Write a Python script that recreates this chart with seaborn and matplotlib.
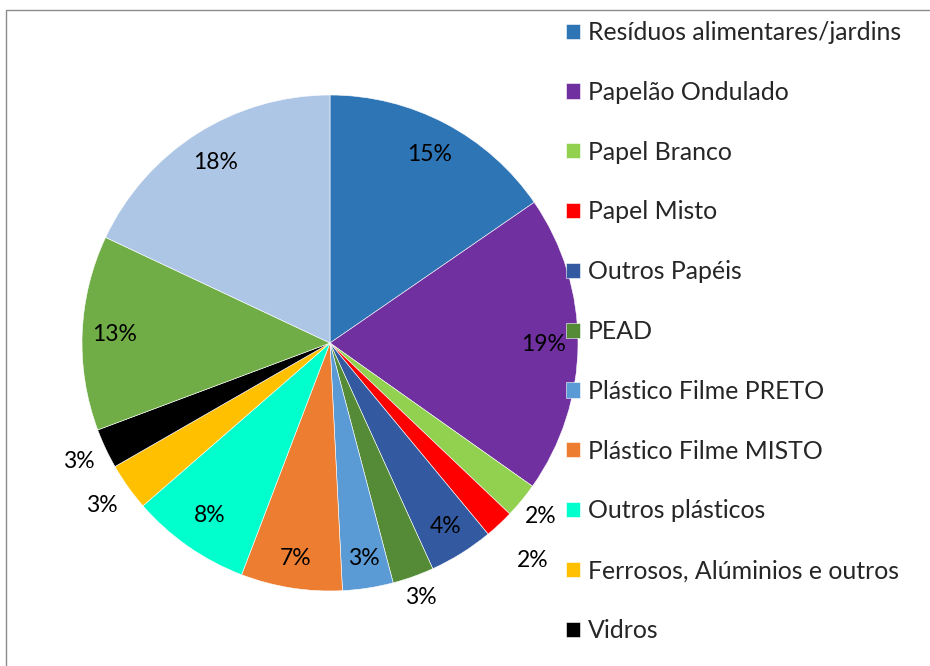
import matplotlib
matplotlib.use("Agg")
import matplotlib.pyplot as plt
import seaborn as sns
import numpy as np
from matplotlib.patches import Rectangle

# data (share of the whole, %)
values = [15.4, 19.4, 2.3, 1.9, 4.2, 2.7, 3.3, 6.6, 7.8, 3.1, 2.6, 12.7, 18.0]
legend_names = [
    "Resíduos alimentares/jardins",
    "Papelão Ondulado",
    "Papel Branco",
    "Papel Misto",
    "Outros Papéis",
    "PEAD",
    "Plástico Filme PRETO",
    "Plástico Filme MISTO",
    "Outros plásticos",
    "Ferrosos, Alúminios e outros",
    "Vidros",
]
colors = ["#2E75B6", "#7030A0", "#92D050", "#FF0000", "#335AA0", "#558B37",
          "#5B9BD5", "#ED7D31", "#00FFCC", "#FFC000", "#000000", "#70AD47", "#AEC6E6"]

# radial distance of each percent label (inside vs outside the pie)
label_r = [0.86, 0.86, 1.10, 1.20, 0.875, 1.09, 0.88, 0.88, 0.85, 1.13, 1.12, 0.87, 0.86]

sns.set_style("white")
plt.rcParams["font.family"] = ["Lato", "DejaVu Sans"]

fig = plt.figure(figsize=(9.3, 6.66), dpi=100)
ax = fig.add_axes([82 / 930, 75 / 666, 496 / 930, 496 / 666])

wedges, texts, autotexts = ax.pie(
    values, colors=colors, startangle=90, counterclock=False,
    autopct="%.0f%%", pctdistance=0.86,
    wedgeprops=dict(edgecolor="white", linewidth=0.4),
    textprops=dict(fontsize=16.5, color="black"),
)
ax.set_xlim(-1, 1)
ax.set_ylim(-1, 1)
ax.set_aspect("equal")

for w, t, r in zip(wedges, autotexts, label_r):
    th = np.deg2rad((w.theta1 + w.theta2) / 2)
    t.set_position((r * np.cos(th), r * np.sin(th)))
    t.set_clip_on(False)

ax.legend(wedges[:11], legend_names, loc="upper left",
          bbox_to_anchor=(566 / 930, 1 - 21 / 666), bbox_transform=fig.transFigure,
          frameon=False, fontsize=17.9, handlelength=0.56, handleheight=0.56,
          handletextpad=0.32, labelspacing=1.48, borderpad=0, borderaxespad=0)

# chart frame (cut off at right and bottom in the reference)
fig.add_artist(Rectangle((6 / 930, -0.1), 1.2, 1 - 10 / 666 + 0.1,
                         transform=fig.transFigure, fill=False,
                         edgecolor="#8c8c8c", linewidth=1))

fig.savefig("out.png", dpi=100)
